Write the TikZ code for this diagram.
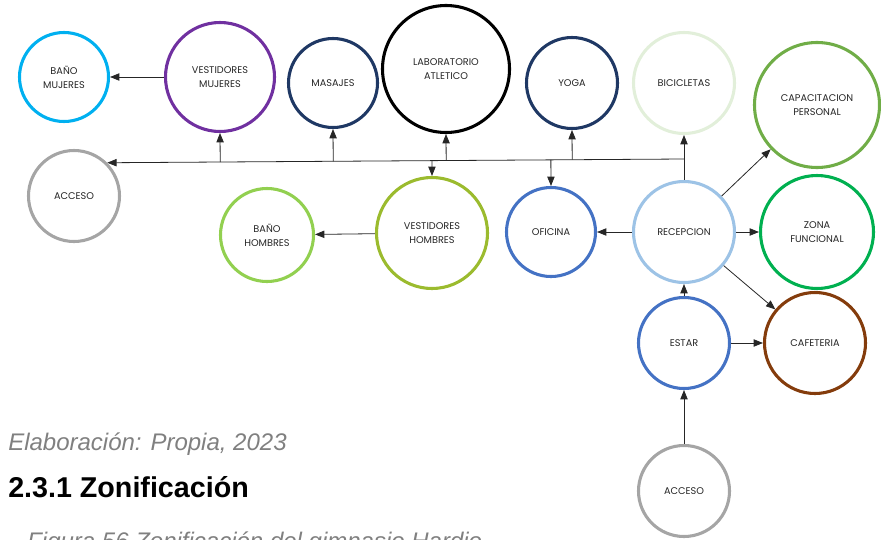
\documentclass[tikz,border=0pt]{standalone}
\usepackage{fontspec}
\setmainfont{Liberation Sans}
\newfontfamily\zonefont{Poppins}
\usetikzlibrary{arrows.meta,positioning,calc}
\definecolor{bmuj}{HTML}{00B0F0}
\definecolor{vmuj}{HTML}{7030A0}
\definecolor{gris}{HTML}{A5A5A5}
\definecolor{navy}{HTML}{1F3864}
\definecolor{bici}{HTML}{E2EFDA}
\definecolor{capac}{HTML}{70AD47}
\definecolor{vhom}{HTML}{9BBB2E}
\definecolor{bhom}{HTML}{92D050}
\definecolor{azul}{HTML}{4472C4}
\definecolor{recep}{HTML}{9DC3E6}
\definecolor{zona}{HTML}{00B050}
\definecolor{cafe}{HTML}{843C0C}
\tikzset{
  zone/.style={
    circle, draw=#1, line width=2.3pt,
    inner sep=1pt, align=center,
    font=\zonefont\fontsize{7.3}{10.5}\selectfont, text=black!85
  },
  rad/.style={minimum size=(#1-1.5)*1.5pt},
  link/.style={
    -{Triangle[length=7pt,width=5.5pt]}, line width=0.6pt, draw=black!85
  },
  caption/.style={
    anchor=base west, inner sep=0pt,
    font=\itshape\fontsize{18}{20}\selectfont, text=black!50
  },
}

\begin{document}
\begin{tikzpicture}[x=0.75pt, y=-0.75pt]
  \useasboundingbox (0,0) rectangle (881,539);

  % upper row
  \node[zone=bmuj, rad=46] (banoM) at (64,77) {BAÑO\\MUJERES};
  \node[zone=vmuj, rad=56] (vestM) at (220,77) {VESTIDORES\\MUJERES};
  \node[zone=navy, rad=46] (masaj) at (333,83) {MASAJES};
  \node[zone=black, rad=65] (labo) at (446,69) {LABORATORIO\\ATLETICO};
  \node[zone=navy, rad=47] (yoga) at (572,83) {YOGA};
  \node[zone=bici, rad=52] (bicic) at (684,83) {BICICLETAS};
  \node[zone=capac, rad=64] (capac) at (817,105) {CAPACITACION\\PERSONAL};

  % middle row
  \node[zone=gris, rad=47] (accL) at (74,196) {ACCESO};
  \node[zone=bhom, rad=48] (banoH) at (267,235) {BAÑO\\HOMBRES};
  \node[zone=vhom, rad=57] (vestH) at (432,233) {VESTIDORES\\HOMBRES};
  \node[zone=azul, rad=46] (ofic) at (551,232) {OFICINA};
  \node[zone=recep, rad=52] (recep) at (684,232) {RECEPCION};
  \node[zone=zona, rad=58] (zonaF) at (817,232) {ZONA\\FUNCIONAL};

  % lower part
  \node[zone=azul, rad=47] (estar) at (684,343) {ESTAR};
  \node[zone=cafe, rad=52] (cafet) at (815,343) {CAFETERIA};
  \node[zone=gris, rad=47] (accB) at (684,491) {ACCESO};

  % trunk
  \coordinate (junc) at (684,159);
  \draw[link] (recep) -- (bicic);
  \draw[link] (junc) -- (accL.45);
  \draw[link] ($(junc)!(vestM.south)!(accL.45)$) -- (vestM.south);
  \draw[link] ($(junc)!(masaj.south)!(accL.45)$) -- (masaj.south);
  \draw[link] ($(junc)!(labo.south)!(accL.45)$) -- (labo.south);
  \draw[link] ($(junc)!(yoga.south)!(accL.45)$) -- (yoga.south);
  \draw[link] ($(junc)!(vestH.north)!(accL.45)$) -- (vestH.north);
  \draw[link] ($(junc)!(ofic.north)!(accL.45)$) -- (ofic.north);

  % other links
  \draw[link] (vestM) -- (banoM);
  \draw[link] (vestH) -- (banoH);
  \draw[link] (recep) -- (ofic);
  \draw[link] (recep) -- (zonaF);
  \draw[link] (recep) -- (capac);
  \draw[link] (recep) -- (cafet);
  \draw[link] (estar) -- (recep);
  \draw[link] (estar) -- (cafet);
  \draw[link] (accB) -- (estar);

  % texts below
  \node[caption] (fuente) at (8,450) {Elaboración: Propia, 2023};
  \node[anchor=base west, inner sep=0pt,
    font=\bfseries\fontsize{21.5}{24}\selectfont] (titulo) at (8,497)
    {2.3.1 Zonificación};
  \node[caption] (figura) at (27,549) {Figura 56 Zonificación del gimnasio Hardio};
\end{tikzpicture}
\end{document}
